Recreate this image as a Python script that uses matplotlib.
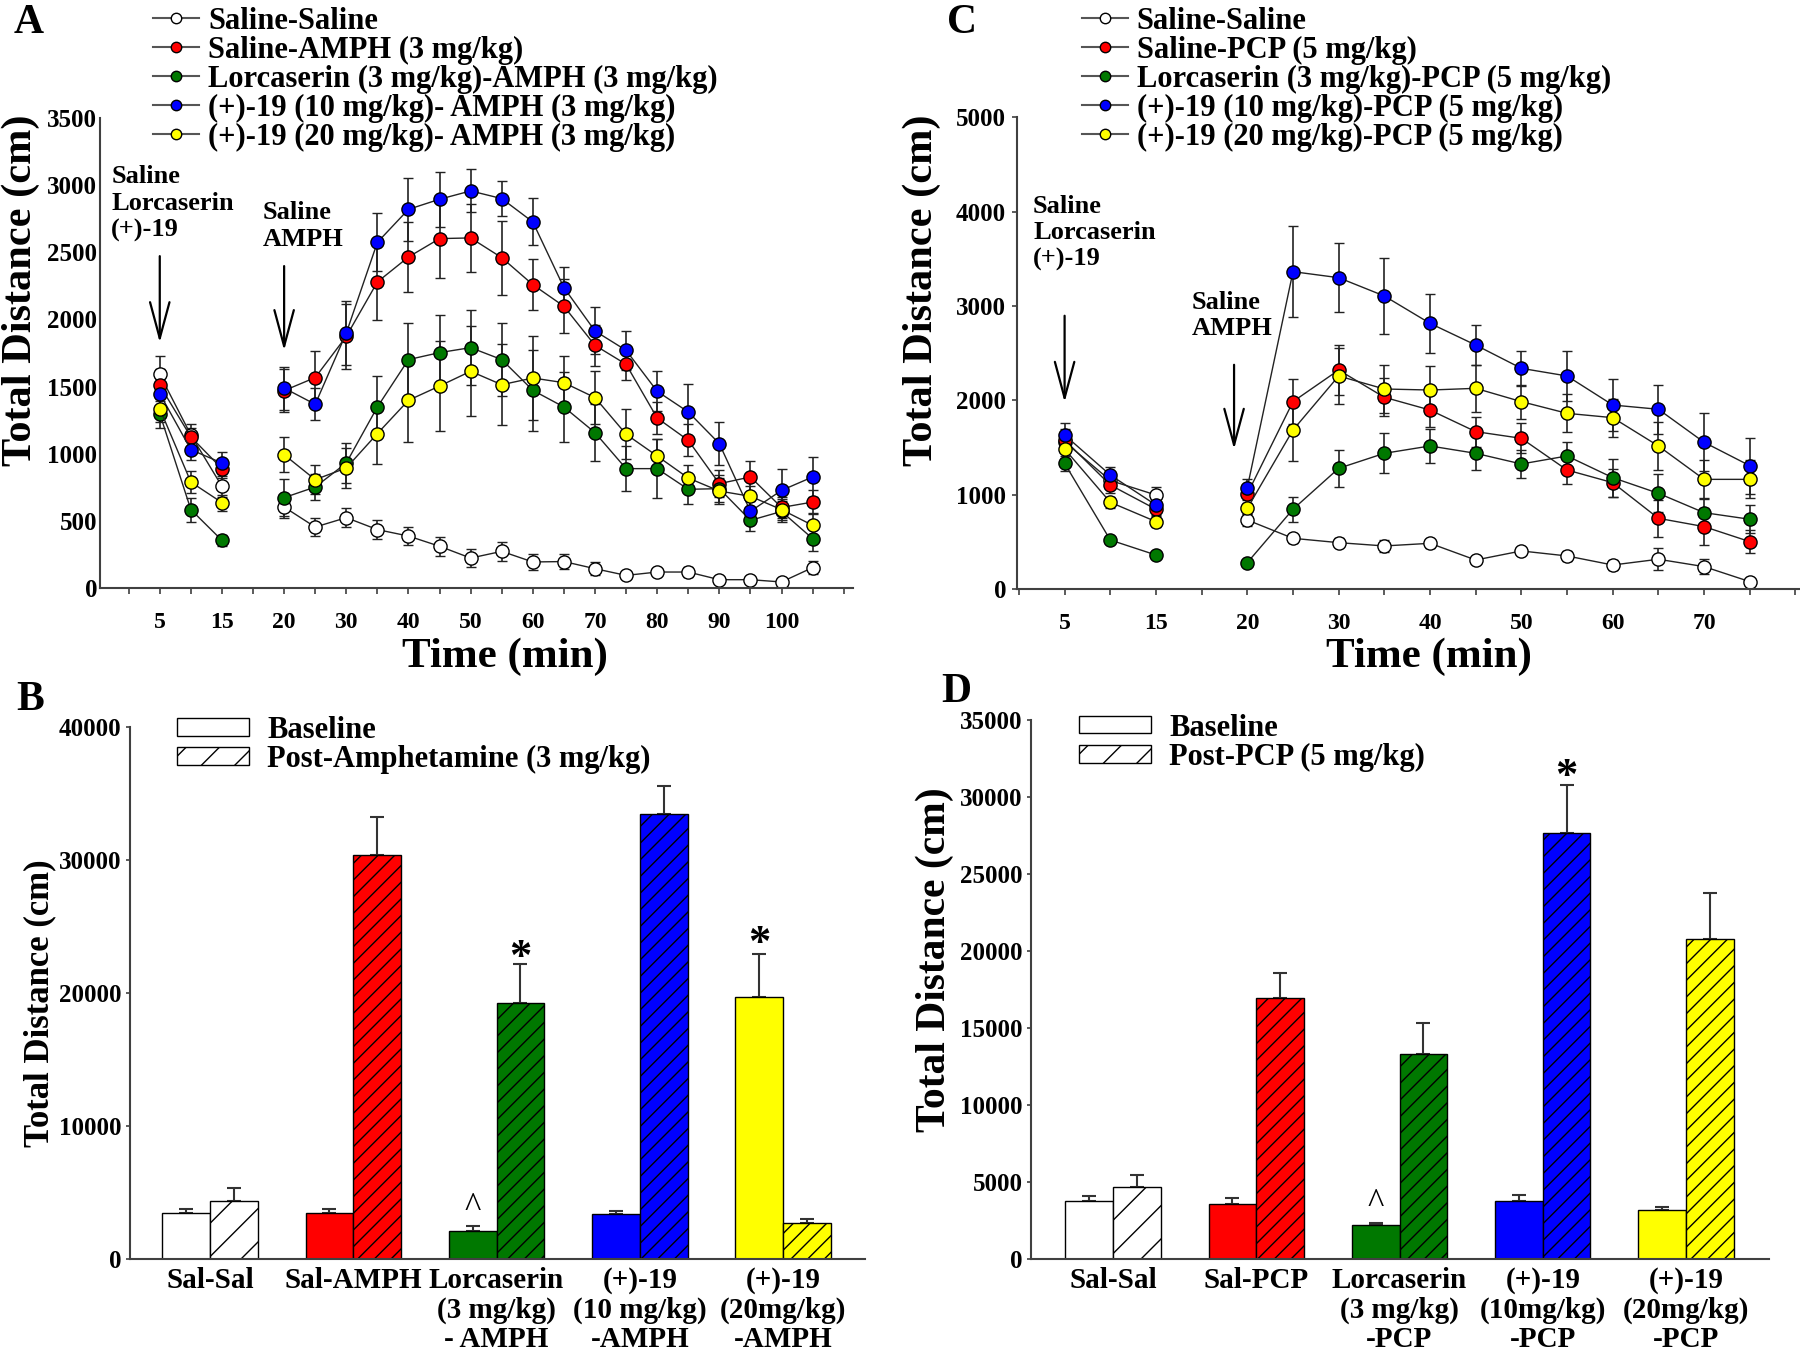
import numpy as np
import matplotlib.pyplot as plt
from matplotlib.lines import Line2D
from matplotlib.patches import Patch

plt.rcParams['font.family'] = ['Liberation Serif', 'DejaVu Serif']
plt.rcParams['font.weight'] = 'bold'
plt.rcParams['hatch.linewidth'] = 1.0

# ---------------- time course data (Total Distance, cm) ----------------
time_a = [5, 10, 15, 20, 25, 30, 35, 40, 45, 50, 55, 60, 65, 70, 75, 80, 85, 90, 95, 100, 105]
a_white = [1590, 1140, 757, 603, 454, 524, 435, 387, 311, 223, 273, 194, 197, 144, 94, 119, 119, 62, 62, 45, 152]
a_red = [1509, 1125, 889, 1470, 1567, 1874, 2279, 2465, 2602, 2607, 2460, 2259, 2098, 1807, 1666, 1266, 1100, 777, 827, 600, 640]
a_green = [1298, 584, 355, 673, 752, 931, 1348, 1701, 1753, 1790, 1701, 1472, 1348, 1157, 889, 889, 735, 740, 504, 570, 368]
a_blue = [1448, 1030, 931, 1489, 1368, 1899, 2574, 2820, 2895, 2957, 2900, 2726, 2237, 1914, 1770, 1465, 1311, 1075, 571, 727, 827]
a_yellow = [1336, 789, 636, 993, 807, 894, 1150, 1398, 1504, 1614, 1514, 1564, 1529, 1418, 1145, 983, 819, 722, 683, 584, 467]
a_white_err = [140, 80, 80, 85, 70, 70, 70, 70, 70, 65, 70, 60, 55, 50, 30, 30, 40, 30, 30, 30, 50]
a_red_err = [120, 70, 70, 160, 200, 240, 280, 260, 290, 250, 275, 190, 200, 150, 120, 120, 120, 100, 120, 80, 90]
a_green_err = [110, 90, 40, 140, 100, 150, 230, 270, 280, 280, 270, 300, 260, 210, 170, 220, 110, 100, 80, 80, 90]
a_blue_err = [110, 80, 80, 160, 120, 240, 215, 235, 205, 160, 130, 175, 155, 175, 145, 150, 210, 160, 80, 160, 150]
a_yellow_err = [100, 80, 60, 130, 110, 150, 230, 310, 335, 335, 300, 310, 200, 200, 185, 130, 100, 100, 80, 80, 90]
a_labels = ["Saline-Saline", "Saline-AMPH (3 mg/kg)", "Lorcaserin (3 mg/kg)-AMPH (3 mg/kg)",
            "(+)-19 (10 mg/kg)- AMPH (3 mg/kg)", "(+)-19 (20 mg/kg)- AMPH (3 mg/kg)"]

time_c = [5, 10, 15, 20, 25, 30, 35, 40, 45, 50, 55, 60, 65, 70, 75]
c_white = [1560, 1150, 996, 731, 537, 491, 456, 484, 307, 403, 350, 254, 315, 237, 78]
c_red = [1580, 1102, 845, 1007, 1986, 2321, 2032, 1897, 1668, 1597, 1261, 1127, 749, 661, 502]
c_green = [1332, 519, 360, 279, 845, 1279, 1438, 1516, 1438, 1325, 1410, 1180, 1014, 809, 739]
c_blue = [1632, 1208, 890, 1074, 3364, 3300, 3106, 2816, 2586, 2339, 2258, 1950, 1905, 1555, 1307]
c_yellow = [1484, 919, 714, 855, 1685, 2258, 2120, 2109, 2127, 1986, 1862, 1816, 1516, 1162, 1162]
c_white_err = [60, 60, 80, 60, 50, 50, 60, 50, 40, 40, 50, 50, 114, 80, 30]
c_red_err = [120, 80, 60, 60, 237, 265, 200, 180, 160, 160, 150, 150, 194, 195, 124]
c_green_err = [80, 40, 40, 30, 134, 194, 212, 180, 180, 150, 150, 200, 200, 150, 150]
c_blue_err = [130, 80, 70, 90, 484, 364, 400, 311, 212, 184, 265, 273, 257, 307, 297]
c_yellow_err = [100, 60, 60, 60, 325, 300, 250, 255, 250, 180, 200, 200, 250, 200, 200]
c_labels = ["Saline-Saline", "Saline-PCP (5 mg/kg)", "Lorcaserin (3 mg/kg)-PCP (5 mg/kg)",
            "(+)-19 (10 mg/kg)-PCP (5 mg/kg)", "(+)-19 (20 mg/kg)-PCP (5 mg/kg)"]

series_colors = ["white", "#ff0000", "#007800", "#0000ff", "#ffff00"]

# ---------------- summed distance (bars) ----------------
b_cats = ["Sal-Sal", "Sal-AMPH", "Lorcaserin\n(3 mg/kg)\n- AMPH", "(+)-19\n(10 mg/kg)\n-AMPH", "(+)-19\n(20mg/kg)\n-AMPH"]
b_base = [3442, 3442, 2135, 3346, 19696]
b_base_err = [320, 320, 320, 250, 3250]
b_post = [4366, 30340, 19218, 33464, 2709]
b_post_err = [950, 2900, 2930, 2070, 320]

d_cats = ["Sal-Sal", "Sal-PCP", "Lorcaserin\n(3 mg/kg)\n-PCP", "(+)-19\n(10mg/kg)\n-PCP", "(+)-19\n(20mg/kg)\n-PCP"]
d_base = [3781, 3588, 2208, 3781, 3174]
d_base_err = [280, 360, 140, 360, 220]
d_post = [4692, 16919, 13331, 27683, 20783]
d_post_err = [745, 1630, 1960, 3090, 3000]


def time_pos(t):
    # broken time axis: one empty slot between the 15 and 20 min readings
    t = np.asarray(t, dtype=float)
    return np.where(t <= 15, t / 5.0, t / 5.0 + 1.0)


def style_axes(ax):
    for s in ("top", "right"):
        ax.spines[s].set_visible(False)
    for s in ("left", "bottom"):
        ax.spines[s].set_color("#404040")
        ax.spines[s].set_linewidth(1.5)


def line_panel(ax, times, vals, errs):
    times = np.asarray(times)
    pos = time_pos(times)
    first = times <= 15
    for v, e, c in zip(vals, errs, series_colors):
        v = np.asarray(v)
        e = np.asarray(e)
        for seg in (first, ~first):
            ax.errorbar(pos[seg], v[seg], yerr=e[seg], fmt="-o", color="#222222", lw=1.0,
                        mfc=c, mec="black", mew=1.0, ms=9.5, ecolor="#222222",
                        elinewidth=1.2, capsize=3.5, capthick=1.2)


arrow_style = dict(arrowstyle="->,head_length=1.3,head_width=0.35", lw=1.6, color="black", mutation_scale=20)
note_kw = dict(fontsize=19, va="top", ha="left", linespacing=1.2)

fig = plt.figure(figsize=(18, 13.58), dpi=100)

# ---- A
ax = fig.add_axes([0.0556, 0.567, 0.4183, 0.3461])
line_panel(ax, time_a, [a_white, a_red, a_green, a_blue, a_yellow],
           [a_white_err, a_red_err, a_green_err, a_blue_err, a_yellow_err])
style_axes(ax)
ax.set_xlim(-0.92, 23.3)
ax.set_ylim(0, 3500)
ax.set_yticks(np.arange(0, 3501, 500))
ax.set_xticks(np.arange(0, 24))
ax.set_xticklabels(["", "5", "", "15", "", "20", "", "30", "", "40", "", "50", "", "60", "", "70",
                    "", "80", "", "90", "", "100", "", ""])
ax.tick_params(axis="x", length=4.5, width=1.2, pad=13, labelsize=17, color="#404040")
ax.tick_params(axis="y", length=0, pad=2, labelsize=18)
ax.text(-0.56, 3150, "Saline\nLorcaserin\n(+)-19", **note_kw)
ax.text(4.32, 2880, "Saline\nAMPH", **note_kw)
ax.annotate("", xy=(1, 1807), xytext=(1, 2492), arrowprops=arrow_style)
ax.annotate("", xy=(5, 1748), xytext=(5, 2418), arrowprops=arrow_style)
handles = [Line2D([], [], color="#555555", lw=1.5, marker="o", ms=7.5, mfc=c, mec="black") for c in series_colors]
ax.legend(handles, a_labels, loc="upper left", bbox_to_anchor=(0.085, 0.995), bbox_transform=fig.transFigure,
          frameon=False, fontsize=22, handlelength=1.5, handletextpad=0.3, labelspacing=0.0,
          borderpad=0, borderaxespad=0)

# ---- C
ax = fig.add_axes([0.5648, 0.5663, 0.4352, 0.3473])
line_panel(ax, time_c, [c_white, c_red, c_green, c_blue, c_yellow],
           [c_white_err, c_red_err, c_green_err, c_blue_err, c_yellow_err])
style_axes(ax)
ax.set_xlim(-0.05, 17.1)
ax.set_ylim(0, 5000)
ax.set_yticks(np.arange(0, 5001, 1000))
ax.set_xticks(np.arange(0, 18))
ax.set_xticklabels(["", "5", "", "15", "", "20", "", "30", "", "40", "", "50", "", "60", "", "70", "", ""])
ax.tick_params(axis="x", length=4.5, width=1.2, pad=13, labelsize=17, color="#404040")
ax.tick_params(axis="y", length=3.6, width=1.2, pad=4, labelsize=18, color="#404040")
ax.text(0.31, 4180, "Saline\nLorcaserin\n(+)-19", **note_kw)
ax.text(3.79, 3160, "Saline\nAMPH", **note_kw)
ax.annotate("", xy=(1, 1950), xytext=(1, 2926), arrowprops=arrow_style)
ax.annotate("", xy=(4.71, 1452), xytext=(4.71, 2406), arrowprops=arrow_style)
ax.legend(handles, c_labels, loc="upper left", bbox_to_anchor=(0.601, 0.995), bbox_transform=fig.transFigure,
          frameon=False, fontsize=22, handlelength=1.5, handletextpad=0.3, labelspacing=0.0,
          borderpad=0, borderaxespad=0)


def bar_panel(ax, cats, base, base_err, post, post_err):
    x = np.arange(len(cats))
    w = 0.333
    ax.bar(x - w / 2, base, w, color=series_colors, edgecolor="black", lw=1.0, zorder=2)
    b2 = ax.bar(x + w / 2, post, w, color=series_colors, edgecolor="black", lw=1.0, zorder=2)
    for i, p in enumerate(b2):
        p.set_hatch("/" if i == 0 else "//")
    ax.errorbar(x - w / 2, base, yerr=[np.zeros(len(x)), base_err], fmt="none", ecolor="#333333",
                elinewidth=1.5, capsize=5, capthick=1.5, zorder=1)
    ax.errorbar(x + w / 2, post, yerr=[np.zeros(len(x)), post_err], fmt="none", ecolor="#333333",
                elinewidth=1.5, capsize=5, capthick=1.5, zorder=1)
    ax.set_xticks(x)
    ax.set_xticklabels(cats, fontsize=21, linespacing=1.1, va="top")
    ax.tick_params(axis="x", length=0, pad=6)
    ax.tick_params(axis="y", length=3, width=1.2, pad=3, labelsize=18, color="#404040")
    style_axes(ax)
    return x, w


bar_handles = [Patch(facecolor="white", edgecolor="black"), Patch(facecolor="white", edgecolor="black", hatch="/")]
bar_leg_kw = dict(loc="upper left", frameon=False, fontsize=22, handlelength=2.35, handleheight=0.5,
                  handletextpad=0.6, labelspacing=0.0, borderpad=0, borderaxespad=0)

# ---- B
ax = fig.add_axes([0.0721, 0.0729, 0.4083, 0.392])
x, w = bar_panel(ax, b_cats, b_base, b_base_err, b_post, b_post_err)
ax.set_xlim(-0.56, 4.57)
ax.set_ylim(0, 40000)
ax.set_yticks(np.arange(0, 40001, 10000))
ax.text(x[2] + w / 2, b_post[2] + b_post_err[2] + 500, "*", fontsize=32, ha="center", va="center")
ax.text(x[4] - w / 2, b_base[4] + b_base_err[4] + 700, "*", fontsize=32, ha="center", va="center")
ax.text(x[2] - w / 2, b_base[2] + b_base_err[2] + 100, "^", fontsize=25, ha="center", va="bottom", fontweight="normal")
ax.legend(bar_handles, ["Baseline", "Post-Amphetamine (3 mg/kg)"],
          bbox_to_anchor=(0.0983, 0.473), bbox_transform=fig.transFigure, **bar_leg_kw)

# ---- D
ax = fig.add_axes([0.5728, 0.0729, 0.41, 0.397])
x, w = bar_panel(ax, d_cats, d_base, d_base_err, d_post, d_post_err)
ax.set_xlim(-0.573, 4.58)
ax.set_ylim(0, 35000)
ax.set_yticks(np.arange(0, 35001, 5000))
ax.text(x[3] + w / 2, d_post[3] + d_post_err[3] + 500, "*", fontsize=32, ha="center", va="center")
ax.text(x[2] - w / 2, d_base[2] + d_base_err[2] + 100, "^", fontsize=25, ha="center", va="bottom", fontweight="normal")
ax.legend(bar_handles, ["Baseline", "Post-PCP (5 mg/kg)"],
          bbox_to_anchor=(0.5994, 0.4745), bbox_transform=fig.transFigure, **bar_leg_kw)

# axis titles and panel letters
fig.text(0.0117, 0.7865, "Total Distance (cm)", rotation=90, fontsize=30.5, ha="center", va="center")
fig.text(0.5122, 0.7865, "Total Distance (cm)", rotation=90, fontsize=30.5, ha="center", va="center")
fig.text(0.0222, 0.2614, "Total Distance (cm)", rotation=90, fontsize=25, ha="center", va="center")
fig.text(0.5195, 0.293, "Total Distance (cm)", rotation=90, fontsize=30, ha="center", va="center")
fig.text(0.2806, 0.5162, "Time (min)", fontsize=31, ha="center", va="center")
fig.text(0.794, 0.5162, "Time (min)", fontsize=31, ha="center", va="center")
for lx, ly, letter in [(0.016, 0.983, "A"), (0.0167, 0.4845, "B"), (0.5344, 0.983, "C"), (0.531, 0.4905, "D")]:
    fig.text(lx, ly, letter, fontsize=30, ha="center", va="center")

fig.savefig("out.png", dpi=100)
